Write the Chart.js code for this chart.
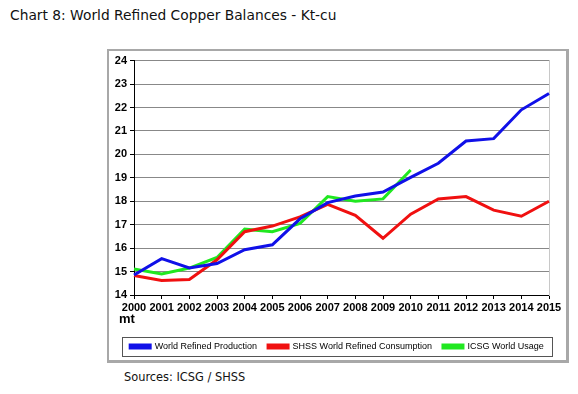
<!DOCTYPE html>
<html>
<head>
<meta charset="utf-8">
<script src="https://cdn.jsdelivr.net/npm/chart.js@4.4.0/dist/chart.umd.min.js"></script>
<style>
  body { margin: 0; background: #fff; width: 578px; height: 394px; position: relative; overflow: hidden; }
  #titulo { position: absolute; left: 10px; top: 7px; font: 13.8px "DejaVu Sans", Verdana, sans-serif; color: #111; }
  #fontes { position: absolute; left: 124px; top: 370px; font: 11.4px "DejaVu Sans", Verdana, sans-serif; color: #111; }
  #moldura { position: absolute; left: 107px; top: 49px; width: 462px; height: 314px; box-sizing: border-box;
             border: 2px solid #a8a8a8; border-right-width: 3px; border-bottom-width: 3px; }
  #caixa { position: absolute; left: 109px; top: 51px; width: 456px; height: 310px; }
</style>
</head>
<body>
<div id="titulo">Chart 8: World Refined Copper Balances - Kt-cu</div>
<div id="moldura"></div>
<div id="caixa"><canvas id="grafico"></canvas></div>
<div id="fontes">Sources: ICSG / SHSS</div>
<script>
// Dados (milhões de toneladas)
const anos = ['2000', '2001', '2002', '2003', '2004', '2005', '2006', '2007',
              '2008', '2009', '2010', '2011', '2012', '2013', '2014', '2015'];
const producao = [14.85, 15.55, 15.15, 15.34, 15.93, 16.14, 17.25, 17.94,
                  18.22, 18.39, 19.02, 19.62, 20.57, 20.67, 21.9, 22.6];
const consumoShss = [14.83, 14.62, 14.66, 15.5, 16.7, 16.94, 17.33, 17.87,
                     17.4, 16.42, 17.45, 18.1, 18.2, 17.62, 17.36, 18.0];
const usoIcsg = [15.11, 14.9, 15.15, 15.6, 16.81, 16.7, 17.05, 18.2,
                 18.0, 18.1, 19.33, null, null, null, null, null];
const ticksY = [14, 15, 16, 17, 18, 19, 20, 21, 22, 23, 24];

const fonteEixo = { family: '"Liberation Sans", Arial, sans-serif', size: 11, weight: 'bold' };

// Moldura da legenda e rótulo "mt"
const extras = {
    id: 'extras',
    afterDraw(chart) {
        const ctx = chart.ctx;
        const area = chart.chartArea;
        const leg = chart.legend;
        const meio = leg.legendHitBoxes.length ? leg.legendHitBoxes[0].top + leg.legendHitBoxes[0].height / 2 : leg.top;
        ctx.save();
        ctx.strokeStyle = '#555';
        ctx.lineWidth = 1;
        ctx.strokeRect(13.5, Math.round(meio) - 9.5, 430, 19);
        ctx.fillStyle = '#000';
        ctx.font = 'bold 13px "Liberation Sans", Arial, sans-serif';
        ctx.textBaseline = 'middle';
        ctx.fillText('mt', area.left - 15, area.bottom + 24);
        ctx.restore();
    }
};

const ctx = document.getElementById('grafico').getContext('2d');
new Chart(ctx, {
    type: 'line',
    data: {
        labels: anos,
        datasets: [
            { label: 'World Refined Production', data: producao, borderColor: '#1010e8', backgroundColor: '#1010e8' },
            { label: 'SHSS World Refined Consumption', data: consumoShss, borderColor: '#f01010', backgroundColor: '#f01010' },
            { label: 'ICSG World Usage', data: usoIcsg, borderColor: '#20e820', backgroundColor: '#20e820' }
        ]
    },
    options: {
        responsive: true,
        maintainAspectRatio: false,
        animation: false,
        layout: { padding: { left: 0, right: 0, top: 6, bottom: 0 } },
        elements: {
            line: { borderWidth: 3, tension: 0 },
            point: { radius: 0 }
        },
        scales: {
            x: {
                grid: { display: true, drawOnChartArea: false, tickColor: '#000', tickLength: 4 },
                border: { color: '#000', width: 1 },
                ticks: { color: '#000', padding: 2, maxRotation: 0, autoSkip: false, font: fonteEixo },
                afterFit: s => { s.height = 36; }
            },
            y: {
                min: 14,
                max: 24,
                afterBuildTicks: s => { s.ticks = ticksY.map(v => ({ value: v })); },
                grid: { color: '#888', tickColor: '#000', tickLength: 4 },
                border: { color: '#000', width: 1 },
                ticks: { color: '#000', padding: 3, font: fonteEixo },
                afterFit: s => { s.width = 25; }
            },
            // eixo vazio à direita: só a linha cinza da borda da área do gráfico
            direita: {
                type: 'linear',
                position: 'right',
                min: 14,
                max: 24,
                grid: { drawOnChartArea: false, drawTicks: false },
                border: { color: '#c8c8c8', width: 1 },
                ticks: { display: false },
                afterFit: s => { s.width = 16; }
            }
        },
        plugins: {
            legend: {
                position: 'bottom',
                labels: {
                    boxWidth: 20,
                    boxHeight: 3,
                    padding: 11,
                    color: '#000',
                    font: { family: '"Liberation Sans", Arial, sans-serif', size: 9 }
                }
            },
            tooltip: { enabled: false }
        }
    },
    plugins: [extras]
});
</script>
</body>
</html>
